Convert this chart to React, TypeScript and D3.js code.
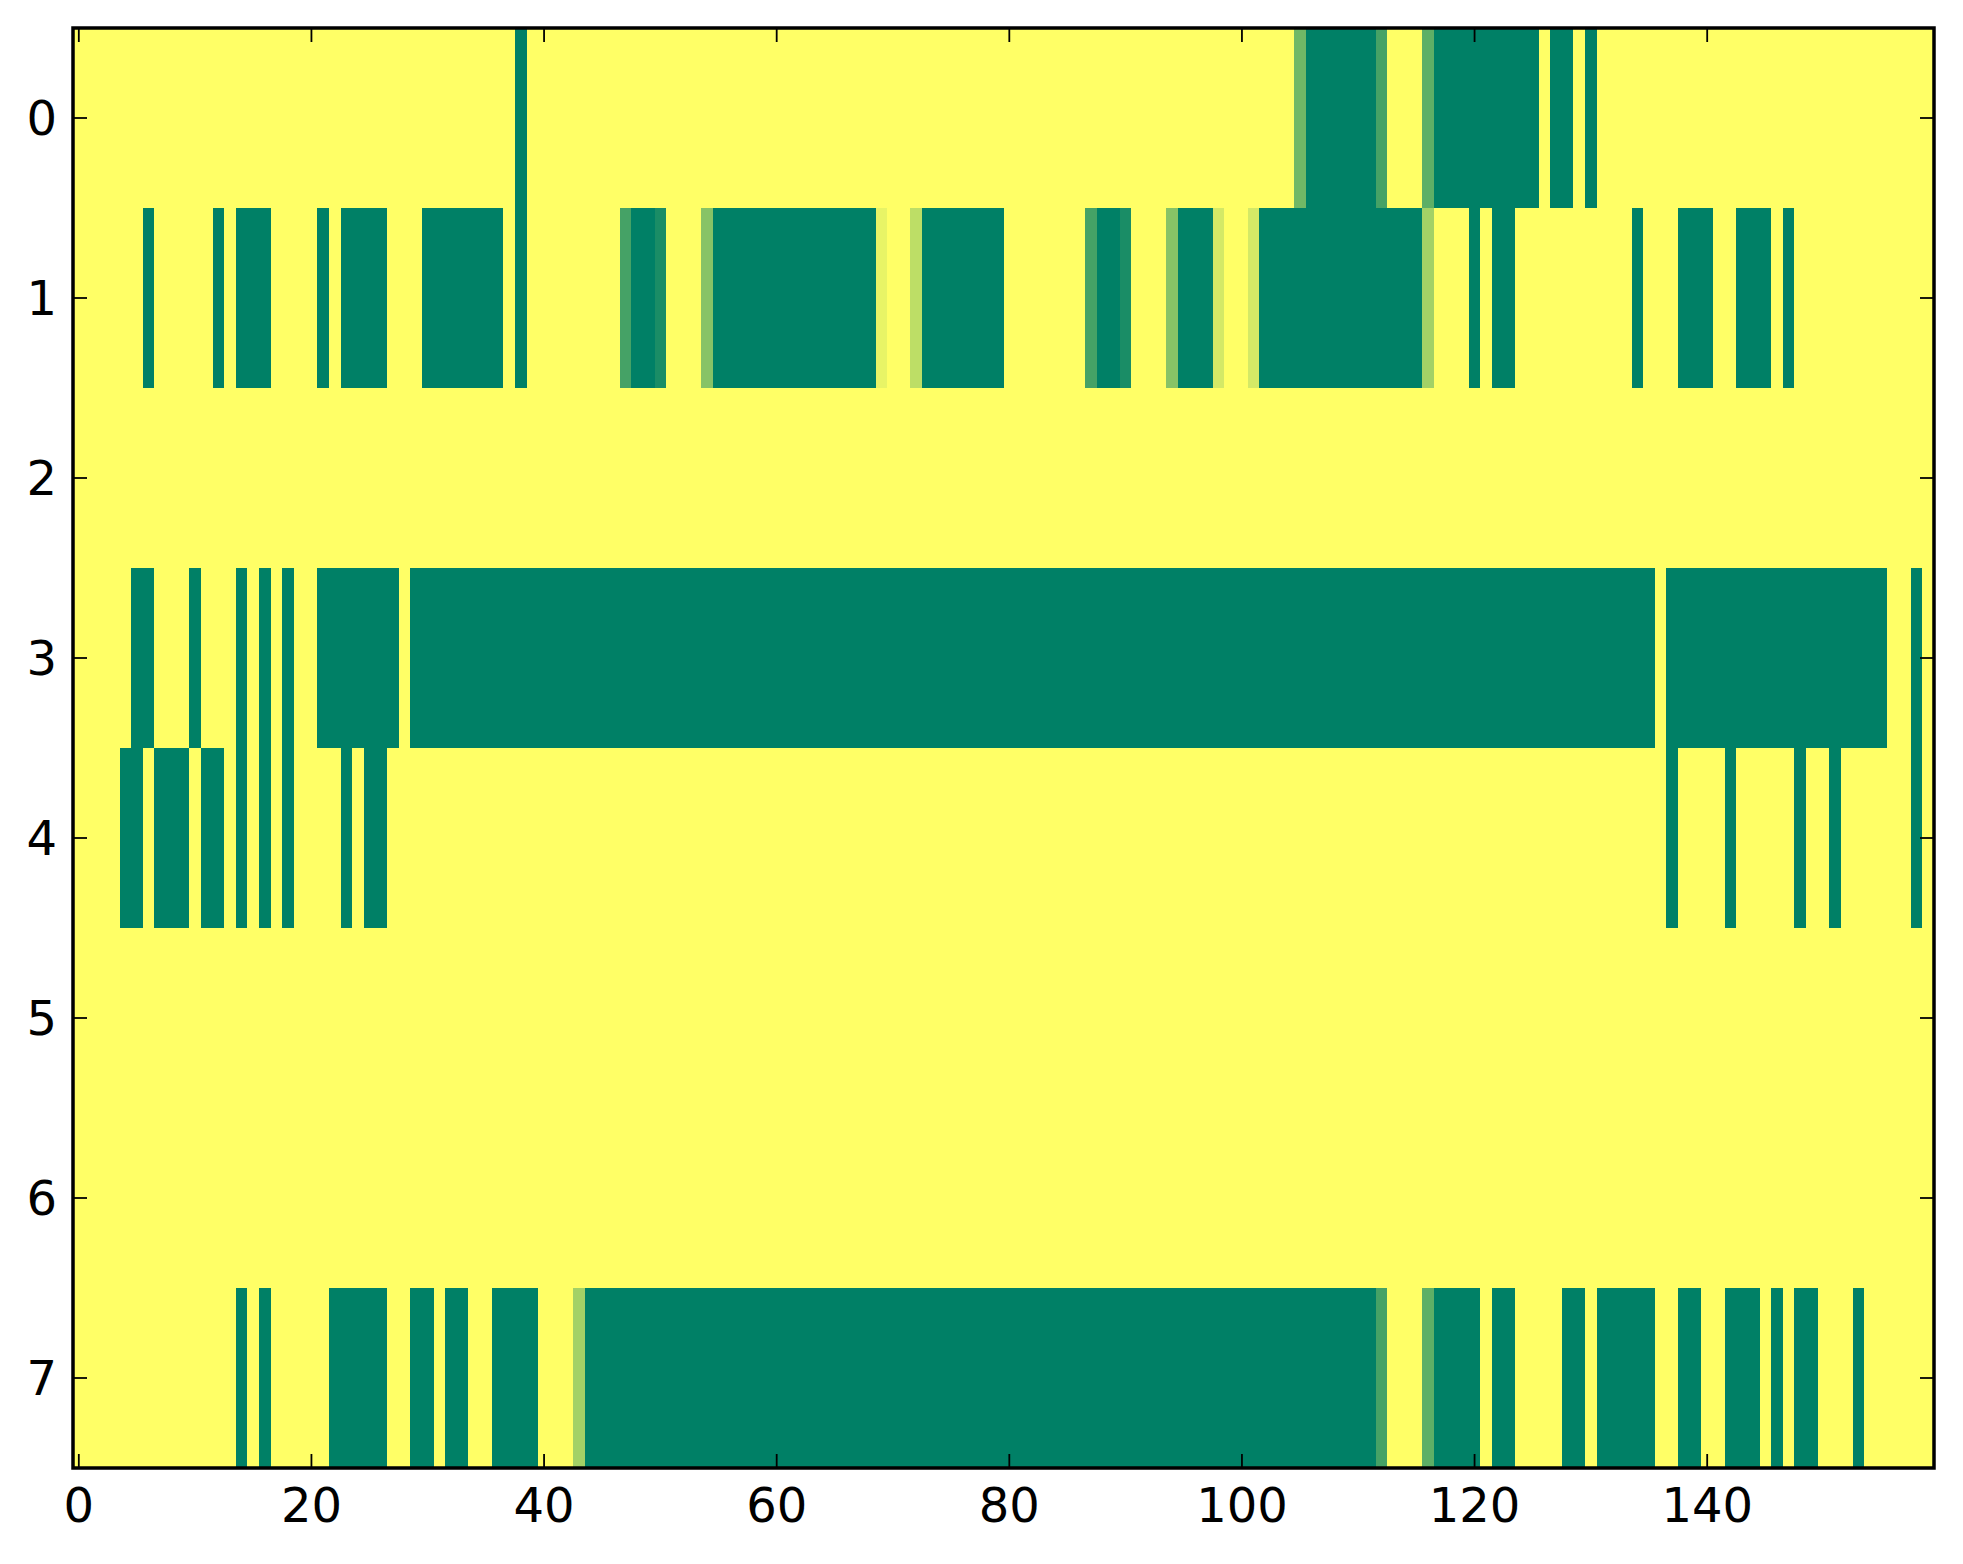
import { useEffect, useRef } from 'react'
import * as d3 from 'd3'

// cells read off the picture as runs: [first column, last column, value]
// anything not listed is 0 (yellow)
const row0: [number, number, number][] = [
  [38, 38, 1], [105, 105, 0.56], [106, 111, 1], [112, 112, 0.73],
  [116, 116, 0.63], [117, 125, 1], [127, 128, 1], [130, 130, 1]
]
const row1: [number, number, number][] = [
  [6, 6, 1], [12, 12, 1], [14, 16, 1], [21, 21, 1], [23, 26, 1], [30, 36, 1],
  [38, 38, 1], [47, 47, 0.73], [48, 49, 1], [50, 50, 0.9], [54, 54, 0.47],
  [55, 68, 1], [69, 69, 0.09], [72, 72, 0.26], [73, 79, 1], [87, 87, 0.73],
  [88, 89, 1], [90, 90, 0.9], [94, 94, 0.47], [95, 97, 1], [98, 98, 0.17],
  [101, 101, 0.17], [102, 115, 1], [116, 116, 0.36], [120, 120, 1],
  [122, 123, 1], [134, 134, 1], [138, 140, 1], [143, 145, 1], [147, 147, 1]
]
const row2: [number, number, number][] = []
const row3: [number, number, number][] = [
  [5, 6, 1], [10, 10, 1], [14, 14, 1], [16, 16, 1], [18, 18, 1], [21, 27, 1],
  [29, 135, 1], [137, 155, 1], [158, 158, 1]
]
const row4: [number, number, number][] = [
  [4, 5, 1], [7, 9, 1], [11, 12, 1], [14, 14, 1], [16, 16, 1], [18, 18, 1],
  [23, 23, 1], [25, 26, 1], [137, 137, 1], [142, 142, 1], [148, 148, 1],
  [151, 151, 1], [158, 158, 1]
]
const row5: [number, number, number][] = []
const row6: [number, number, number][] = []
const row7: [number, number, number][] = [
  [14, 14, 1], [16, 16, 1], [22, 26, 1], [29, 30, 1], [32, 33, 1], [36, 39, 1],
  [43, 43, 0.36], [44, 111, 1], [112, 112, 0.73], [116, 116, 0.63],
  [117, 120, 1], [122, 123, 1], [128, 129, 1], [131, 135, 1], [138, 139, 1],
  [142, 144, 1], [146, 146, 1], [148, 149, 1], [153, 153, 1]
]

const rows = [row0, row1, row2, row3, row4, row5, row6, row7]
const nCols = 160
const xTicks = [0, 20, 40, 60, 80, 100, 120, 140]
const yTicks = [0, 1, 2, 3, 4, 5, 6, 7]

const WIDTH = 1963
const HEIGHT = 1564

export default function App() {
  const svgRef = useRef<SVGSVGElement>(null)

  useEffect(() => {
    document.body.style.margin = '0'
    if (!svgRef.current) return
    const svg = d3.select(svgRef.current)
    svg.selectAll('*').remove()

    const left = 73
    const right = 1934
    const top = 28
    const bottom = 1468

    const x = d3.scaleLinear().domain([-0.5, nCols - 0.5]).range([left, right])
    const y = d3.scaleLinear().domain([-0.5, rows.length - 0.5]).range([top, bottom])

    // summer_r
    const color = d3.scaleLinear<string>()
      .domain([0, 1])
      .range(['#ffff66', '#008066'])
      .interpolate(d3.interpolateRgb)

    svg.append('rect')
      .attr('width', WIDTH)
      .attr('height', HEIGHT)
      .attr('fill', '#ffffff')

    // background = value 0
    svg.append('rect')
      .attr('x', left)
      .attr('y', top)
      .attr('width', right - left)
      .attr('height', bottom - top)
      .attr('fill', color(0))

    const cells = rows.flatMap((runs, r) => runs.map(([a, b, v]) => ({ r, a, b, v })))

    svg.append('g')
      .attr('shape-rendering', 'crispEdges')
      .selectAll('rect')
      .data(cells)
      .enter()
      .append('rect')
      .attr('x', d => x(d.a - 0.5))
      .attr('y', d => y(d.r - 0.5))
      .attr('width', d => x(d.b + 0.5) - x(d.a - 0.5))
      .attr('height', d => y(d.r + 0.5) - y(d.r - 0.5))
      .attr('fill', d => color(d.v))

    const tickLen = 14
    const ticks = svg.append('g').attr('stroke', '#000').attr('stroke-width', 1.8)

    xTicks.forEach(t => {
      ticks.append('line')
        .attr('x1', x(t)).attr('x2', x(t))
        .attr('y1', bottom).attr('y2', bottom - tickLen)
      ticks.append('line')
        .attr('x1', x(t)).attr('x2', x(t))
        .attr('y1', top).attr('y2', top + tickLen)
    })
    yTicks.forEach(t => {
      ticks.append('line')
        .attr('x1', left).attr('x2', left + tickLen)
        .attr('y1', y(t)).attr('y2', y(t))
      ticks.append('line')
        .attr('x1', right).attr('x2', right - tickLen)
        .attr('y1', y(t)).attr('y2', y(t))
    })

    // frame
    svg.append('rect')
      .attr('x', left)
      .attr('y', top)
      .attr('width', right - left)
      .attr('height', bottom - top)
      .attr('fill', 'none')
      .attr('stroke', '#000')
      .attr('stroke-width', 3.5)

    const fontSize = 48

    svg.append('g')
      .selectAll('text')
      .data(xTicks)
      .enter()
      .append('text')
      .attr('x', d => x(d))
      .attr('y', bottom + 54)
      .attr('text-anchor', 'middle')
      .attr('font-family', 'DejaVu Sans')
      .attr('font-size', fontSize)
      .attr('fill', '#000')
      .text(d => d)

    svg.append('g')
      .selectAll('text')
      .data(yTicks)
      .enter()
      .append('text')
      .attr('x', left - 16)
      .attr('y', d => y(d) + 17)
      .attr('text-anchor', 'end')
      .attr('font-family', 'DejaVu Sans')
      .attr('font-size', fontSize)
      .attr('fill', '#000')
      .text(d => d)
  }, [])

  return <svg ref={svgRef} width={WIDTH} height={HEIGHT} style={{ display: 'block' }} />
}
